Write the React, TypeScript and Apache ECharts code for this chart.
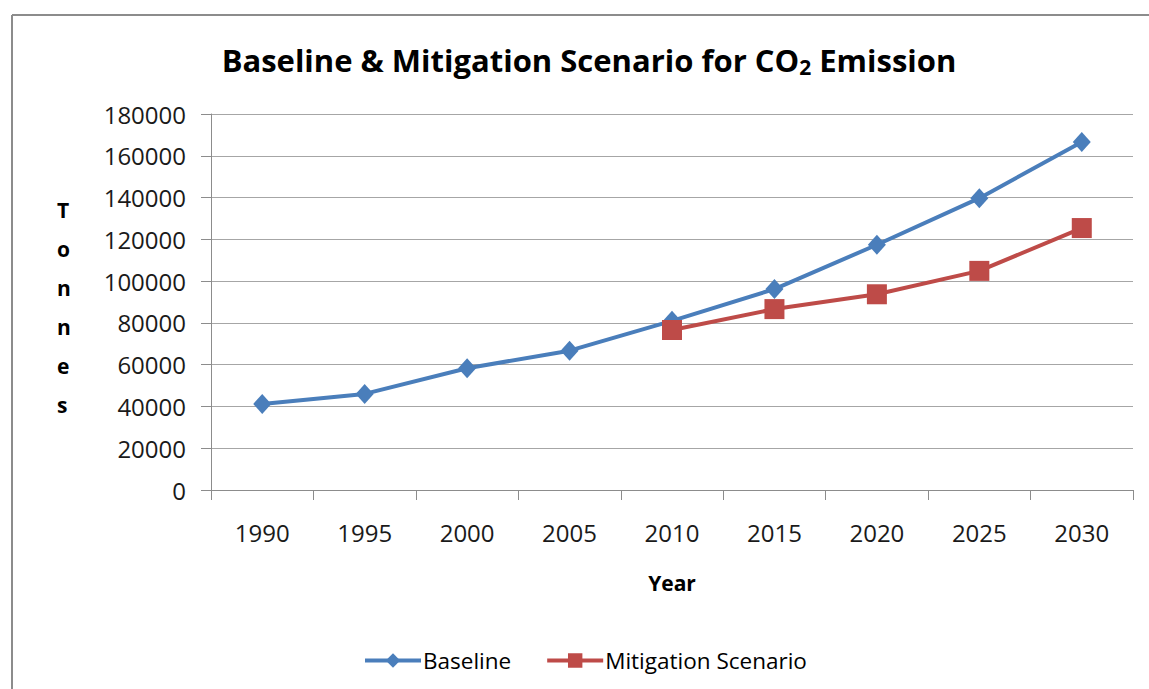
import React, { useEffect, useRef } from "react";
import * as echarts from "echarts";

const years = ["1990", "1995", "2000", "2005", "2010", "2015", "2020", "2025", "2030"];
const baseline = [41200, 46000, 58300, 66700, 81000, 96200, 117400, 139700, 166600];
const mitigation = [null, null, null, null, 76600, 86600, 93700, 104900, 125400];
const yTicks = { min: 0, max: 180000, interval: 20000 };

const FONT = "'Open Sans', sans-serif";

export default function App() {
  const ref = useRef<HTMLDivElement>(null);
  useEffect(() => {
    if (!ref.current) return;
    const chart = echarts.init(ref.current, undefined, { renderer: "svg" });
    chart.setOption({
      animation: false,
      backgroundColor: "#ffffff",
      textStyle: { fontFamily: FONT },
      title: {
        text: "{t|Baseline & Mitigation Scenario for CO}{s|2}{t| Emission}",
        left: 584,
        top: 37,
        textAlign: "center",
        textStyle: {
          rich: {
            t: { fontFamily: FONT, fontWeight: "bold", fontSize: 31, color: "#000000" },
            s: { fontFamily: FONT, fontWeight: "bold", fontSize: 21, color: "#000000", padding: [14, 0, 0, 0] },
          },
        },
      },
      legend: {
        bottom: 12,
        left: 358,
        itemWidth: 56,
        itemHeight: 18,
        itemGap: 34,
        lineStyle: { width: 4 },
        textStyle: { fontFamily: FONT, fontSize: 22.5, color: "#000000", padding: [0, 0, 0, -3] },
        data: ["Baseline", "Mitigation Scenario"],
      },
      grid: { left: 211, right: 16, top: 114, bottom: 199, containLabel: false },
      xAxis: {
        type: "category",
        data: years,
        boundaryGap: true,
        name: "Year",
        nameLocation: "middle",
        nameGap: 82,
        nameTextStyle: { fontFamily: FONT, fontWeight: "bold", fontSize: 21, color: "#000000" },
        axisLine: { lineStyle: { color: "#8c8c8c", width: 1 } },
        axisTick: { show: true, length: 10, inside: false, lineStyle: { color: "#8c8c8c" } },
        axisLabel: { margin: 30, fontSize: 24, color: "#1a1a1a", fontFamily: FONT },
        splitLine: { show: false },
      },
      yAxis: {
        type: "value",
        min: yTicks.min,
        max: yTicks.max,
        interval: yTicks.interval,
        axisLine: { show: true, lineStyle: { color: "#8c8c8c", width: 1 } },
        axisTick: { show: true, length: 10, lineStyle: { color: "#8c8c8c" } },
        axisLabel: {
          margin: 25,
          fontSize: 24,
          color: "#1a1a1a",
          fontFamily: FONT,
          formatter: (v: number) => String(v),
        },
        splitLine: { show: true, lineStyle: { color: "#a6a6a6", width: 1 } },
      },
      graphic: [
        { type: "line", shape: { x1: 12, y1: 15, x2: 1149, y2: 15 }, style: { stroke: "#8c8c8c", lineWidth: 2 } },
        { type: "line", shape: { x1: 12, y1: 15, x2: 12, y2: 689 }, style: { stroke: "#8c8c8c", lineWidth: 2 } },
        {
          type: "text",
          left: 57,
          top: 190,
          style: {
            text: "T\no\nn\nn\ne\ns",
            fontFamily: FONT,
            fontWeight: "bold",
            fontSize: 21,
            lineHeight: 39,
            fill: "#000000",
            align: "center",
          },
        },
      ],
      series: [
        {
          name: "Baseline",
          type: "line",
          data: baseline,
          symbol: "diamond",
          symbolSize: [18, 20],
          lineStyle: { color: "#4a7ebb", width: 4 },
          itemStyle: { color: "#4a7ebb" },
          z: 2,
        },
        {
          name: "Mitigation Scenario",
          type: "line",
          data: mitigation,
          symbol: "rect",
          symbolSize: 20,
          lineStyle: { color: "#be4b48", width: 4 },
          itemStyle: { color: "#be4b48" },
          z: 3,
        },
      ],
    });
    return () => chart.dispose();
  }, []);
  return <div ref={ref} style={{ position: "fixed", left: 0, top: 0, width: 1149, height: 689 }} />;
}
